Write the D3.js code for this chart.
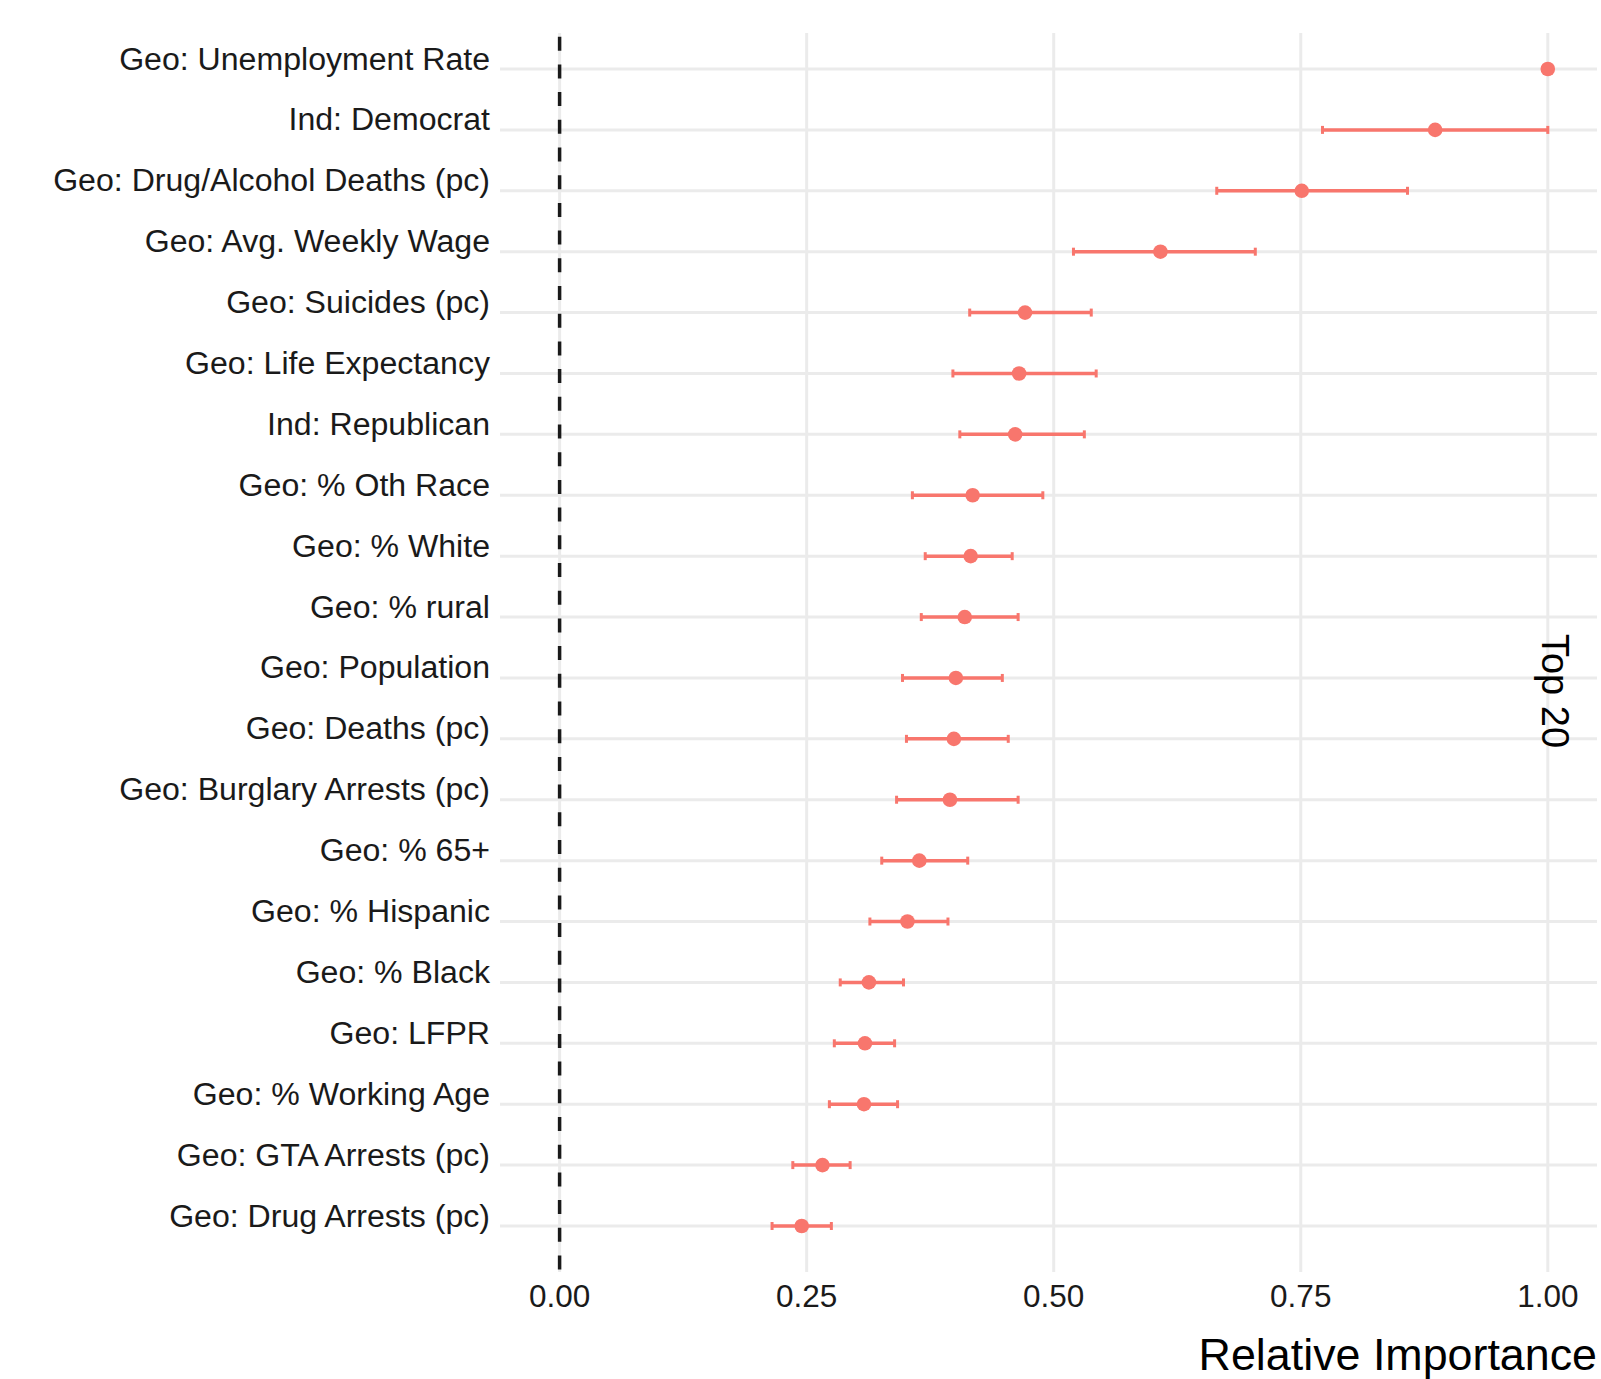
<!DOCTYPE html>
<html>
<head>
<meta charset="utf-8">
<script src="https://cdn.jsdelivr.net/npm/d3@7"></script>
<style>
  body { margin: 0; background: #fff; }
  text { font-family: "Liberation Sans", Arial, sans-serif; }
</style>
</head>
<body>
<script>
// feature names, top to bottom
var features = ["Geo: Unemployment Rate", "Ind: Democrat", "Geo: Drug/Alcohol Deaths (pc)",
    "Geo: Avg. Weekly Wage", "Geo: Suicides (pc)", "Geo: Life Expectancy", "Ind: Republican",
    "Geo: % Oth Race", "Geo: % White", "Geo: % rural", "Geo: Population", "Geo: Deaths (pc)",
    "Geo: Burglary Arrests (pc)", "Geo: % 65+", "Geo: % Hispanic", "Geo: % Black", "Geo: LFPR",
    "Geo: % Working Age", "Geo: GTA Arrests (pc)", "Geo: Drug Arrests (pc)"];

// relative importance (point) with lower / upper interval
var importance = [1.000, 0.886, 0.751, 0.608, 0.471, 0.465, 0.461, 0.418, 0.416, 0.410,
    0.401, 0.399, 0.395, 0.364, 0.352, 0.313, 0.309, 0.308, 0.266, 0.245];
var lower = [1.000, 0.772, 0.665, 0.520, 0.415, 0.398, 0.405, 0.357, 0.370, 0.366,
    0.347, 0.351, 0.341, 0.326, 0.314, 0.284, 0.278, 0.273, 0.236, 0.215];
var upper = [1.000, 1.000, 0.858, 0.704, 0.538, 0.543, 0.531, 0.489, 0.458, 0.464,
    0.448, 0.454, 0.464, 0.413, 0.393, 0.348, 0.339, 0.342, 0.294, 0.275];

var xTicks = [0, 0.25, 0.50, 0.75, 1.00];
var facetLabel = "Top 20";
var xTitle = "Relative Importance";

var width = 1601, height = 1379;
var panel = {left: 500, right: 1597, top: 33, bottom: 1272};
var red = "#F8766D", grid = "#EBEBEB";

var svg = d3.select("body").append("svg")
    .attr("width", width)
    .attr("height", height);

var x = d3.scaleLinear().domain([0, 1]).range([559.6, 1547.8]);
var y = d3.scalePoint().domain(features).range([69, 1226]);

var rows = features.map(function(f, i){
    return {name: f, val: importance[i], lo: lower[i], hi: upper[i]};
});

//grid lines
svg.append("g").selectAll("line.h")
    .data(features).enter().append("line")
    .attr("x1", panel.left).attr("x2", panel.right)
    .attr("y1", function(d){ return y(d); })
    .attr("y2", function(d){ return y(d); })
    .attr("stroke", grid).attr("stroke-width", 3);

svg.append("g").selectAll("line.v")
    .data(xTicks).enter().append("line")
    .attr("x1", function(d){ return x(d); })
    .attr("x2", function(d){ return x(d); })
    .attr("y1", panel.top).attr("y2", panel.bottom)
    .attr("stroke", grid).attr("stroke-width", 3);

//dashed reference line at zero
svg.append("line")
    .attr("x1", x(0)).attr("x2", x(0))
    .attr("y1", 36.7).attr("y2", panel.bottom)
    .attr("stroke", "#1a1a1a").attr("stroke-width", 3.5)
    .attr("stroke-dasharray", "14 13.7");

//error bars
var bars = svg.append("g").selectAll("g")
    .data(rows).enter().append("g");

bars.append("line")
    .attr("x1", function(d){ return x(d.lo); })
    .attr("x2", function(d){ return x(d.hi); })
    .attr("y1", function(d){ return y(d.name); })
    .attr("y2", function(d){ return y(d.name); })
    .attr("stroke", red).attr("stroke-width", 3.5);

["lo", "hi"].forEach(function(k){
    bars.append("line")
        .attr("x1", function(d){ return x(d[k]); })
        .attr("x2", function(d){ return x(d[k]); })
        .attr("y1", function(d){ return y(d.name) - 4; })
        .attr("y2", function(d){ return y(d.name) + 4; })
        .attr("stroke", red).attr("stroke-width", 3);
});

bars.append("circle")
    .attr("cx", function(d){ return x(d.val); })
    .attr("cy", function(d){ return y(d.name); })
    .attr("r", 7.3)
    .attr("fill", red);

//y labels
svg.append("g").selectAll("text")
    .data(features).enter().append("text")
    .attr("x", 490)
    .attr("y", function(d){ return y(d) + 0.5; })
    .attr("text-anchor", "end")
    .attr("font-size", 32.1)
    .attr("fill", "#1a1a1a")
    .text(function(d){ return d; });

//x tick labels
svg.append("g").selectAll("text")
    .data(xTicks).enter().append("text")
    .attr("x", function(d){ return x(d); })
    .attr("y", 1307)
    .attr("text-anchor", "middle")
    .attr("font-size", 31.5)
    .attr("fill", "#1a1a1a")
    .text(function(d){ return d3.format(".2f")(d); });

//axis title
svg.append("text")
    .attr("x", 1597).attr("y", 1370)
    .attr("text-anchor", "end")
    .attr("font-size", 44.8)
    .attr("fill", "#000")
    .text(xTitle);

//facet strip label
svg.append("text")
    .attr("transform", "translate(1542,691) rotate(90)")
    .attr("text-anchor", "middle")
    .attr("font-size", 38)
    .attr("fill", "#000")
    .text(facetLabel);
</script>
</body>
</html>
